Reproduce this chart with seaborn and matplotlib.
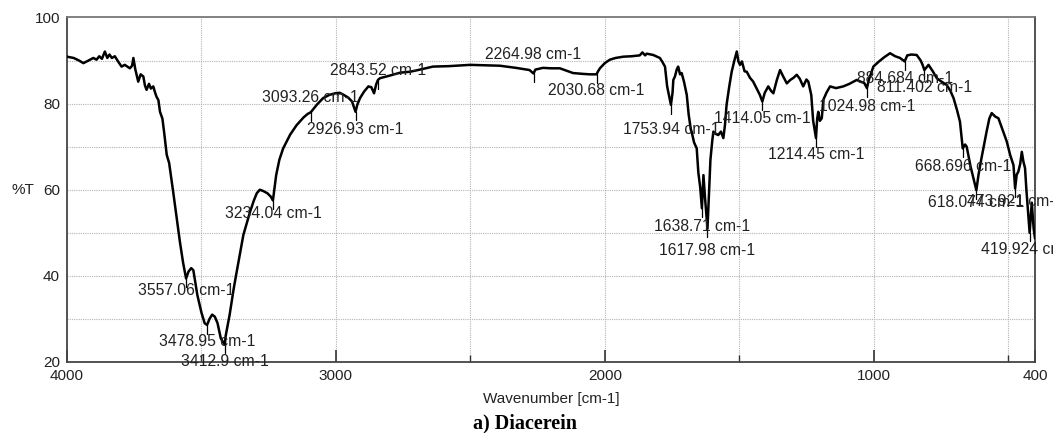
import matplotlib
matplotlib.use("Agg")
import matplotlib.pyplot as plt
import numpy as np
import pandas as pd
import seaborn as sns
from matplotlib.ticker import FixedLocator

# --- FTIR spectrum of diacerein: background trace (wavenumber cm-1, %T) ---
trace_wn = [
    4000, 3975, 3955, 3939, 3920, 3902, 3890, 3880, 3870, 3859, 3850, 3842, 3833,
    3822, 3810, 3797, 3785, 3766, 3758, 3753, 3746, 3735, 3726, 3716, 3710, 3704,
    3695, 3688, 3679, 3672, 3667, 3660, 3654, 3645, 3638, 3629, 3620, 3605, 3590,
    3580, 3568, 3548, 3538, 3530, 3515, 3500, 3488, 3470, 3460, 3450, 3440,
    3428, 3410, 3395, 3380, 3371, 3357, 3344, 3330, 3319, 3305, 3294, 3283,
    3270, 3255, 3242, 3228, 3222, 3210, 3196, 3170, 3146, 3120, 3105, 3070,
    3047, 3025, 3003, 2985, 2970, 2954, 2940, 2920, 2910, 2895, 2879, 2868,
    2858, 2850, 2836, 2800, 2760, 2724, 2680, 2639, 2580, 2501, 2450, 2390,
    2330, 2280, 2258, 2230, 2200, 2167, 2140, 2118, 2080, 2055, 2025, 2018,
    2000, 1981, 1960, 1931, 1900, 1870, 1860, 1850, 1844, 1820, 1795, 1785,
    1776, 1768, 1748, 1745, 1739, 1732, 1727, 1720, 1714, 1705, 1695, 1688,
    1680, 1677, 1668, 1658, 1652, 1645, 1633, 1627, 1613, 1607, 1600, 1596,
    1588, 1578, 1568, 1559, 1553, 1547, 1537, 1528, 1518, 1509, 1503, 1497,
    1490, 1480, 1472, 1460, 1448, 1435, 1423, 1405, 1392, 1382, 1373, 1360,
    1348, 1338, 1323, 1310, 1298, 1286, 1275, 1262, 1250, 1243, 1232, 1225,
    1210, 1206, 1200, 1193, 1187, 1175, 1162, 1140, 1113, 1090, 1063, 1045,
    1035, 1018, 1001, 980, 960, 939, 920, 902, 875, 860, 840, 825, 818,
    796, 780, 765, 750, 740, 728, 715, 703, 690, 679, 672, 660, 654, 640,
    610, 600, 592, 580, 570, 561, 548, 536, 520, 505, 492, 480, 468, 462,
    455, 449, 443, 437, 432, 412, 405, 400,
]
trace_t = [
    90.9, 90.6, 90.0, 89.4, 90.0, 90.6, 90.2, 91.0, 90.4, 92.1, 90.6, 91.4, 90.6,
    91.0, 89.8, 88.6, 89.0, 88.2, 88.8, 90.6, 88.0, 85.1, 86.8, 86.3, 84.2, 83.2,
    84.6, 83.5, 84.0, 82.5, 81.6, 80.8, 78.1, 76.5, 73.0, 68.1, 66.2, 59.5, 52.5,
    47.9, 43.0, 41.0, 41.8, 41.3, 35.5, 31.5, 29.0, 30.0, 31.0, 30.5, 29.0,
    25.5, 26.0, 31.0, 37.0, 40.2, 45.0, 49.5, 52.5, 54.9, 57.5, 59.2, 60.0,
    59.7, 59.2, 58.4, 60.5, 63.4, 67.0, 69.6, 72.8, 75.0, 76.8, 77.6, 79.8,
    81.3, 82.0, 82.4, 82.5, 82.0, 81.4, 80.5, 79.8, 81.3, 82.8, 84.0, 83.8,
    82.4, 84.5, 85.9, 86.5, 87.2, 87.4, 88.0, 88.6, 88.7, 89.0, 88.9, 88.8,
    88.3, 87.8, 87.9, 88.3, 88.2, 88.2, 87.6, 87.1, 86.9, 86.8, 87.5, 88.2,
    89.4, 90.2, 90.6, 90.9, 91.0, 91.2, 91.9, 91.2, 91.6, 91.3, 90.6, 89.6,
    88.6, 84.0, 82.5, 85.5, 86.3, 88.0, 88.6, 86.8, 87.1, 85.0, 82.0, 77.5,
    74.0, 73.5, 71.0, 69.6, 64.0, 60.5, 63.4, 58.0, 58.0, 67.0, 71.5, 73.5,
    73.0, 72.7, 73.5, 72.0, 75.0, 79.7, 84.0, 87.4, 90.0, 92.1, 89.8, 89.0,
    89.8, 87.5, 87.4, 86.0, 85.1, 83.5, 82.0, 82.5, 84.0, 83.0, 82.4, 85.5,
    87.8, 86.5, 84.7, 85.5, 86.0, 86.7, 85.8, 84.0, 85.6, 85.1, 82.0, 76.0,
    76.5, 78.1, 76.0, 76.6, 80.9, 82.6, 84.0, 83.6, 84.0, 84.6, 85.5, 85.0,
    84.8, 85.5, 88.6, 89.8, 90.8, 91.7, 91.0, 90.6, 91.2, 91.4, 91.3, 90.0, 89.0,
    89.0, 87.5, 85.9, 85.2, 84.8, 84.3, 83.0, 81.3, 78.5, 75.8, 71.5, 70.5, 70.0, 65.5,
    63.5, 67.0, 69.6, 73.5, 76.5, 77.8, 77.0, 76.6, 73.8, 71.2, 68.0, 65.7, 63.5, 64.2,
    66.0, 68.8, 66.5, 65.0, 60.0, 57.0, 51.0, 48.7,
]

# --- labelled bands: position, %T at the band, label placement (%T) ---
peak_wn = [3557.06, 3478.95, 3412.9, 3234.04, 3093.26, 2926.93, 2843.52,
           2264.98, 2030.68, 1753.94, 1638.71, 1617.98, 1414.05, 1214.45,
           1024.98, 884.684, 811.402, 668.696, 618.074, 473.921, 419.924]
peak_t = [39.4, 28.6, 24.0, 57.5, 78.0, 78.1, 85.5,
          87.0, 86.8, 79.7, 55.7, 51.0, 80.5, 72.0,
          83.6, 89.8, 87.8, 69.6, 59.9, 60.3, 50.0]
label_t = [36.7, 24.7, 20.0, 54.5, 81.4, 73.9, 87.8,
           91.3, 83.0, 74.1, 51.4, 46.0, 76.6, 68.1,
           79.3, 85.9, 83.8, 65.3, 57.0, 57.3, 46.2]

x_major = [4000, 3000, 2000, 1000, 400]
x_minor = [3500, 2500, 1500, 500]
x_grid = [3500, 3000, 2500, 2000, 1500, 1000, 500]
y_labels = [20, 40, 60, 80, 100]
y_grid = [30, 40, 50, 60, 70, 80, 90]

spectrum = pd.concat([
    pd.DataFrame({"wavenumber": trace_wn, "T": trace_t}),
    pd.DataFrame({"wavenumber": peak_wn, "T": peak_t}),
]).sort_values("wavenumber", ascending=False).reset_index(drop=True)

sns.set_theme(style="white")
plt.rcParams["font.family"] = ["Liberation Sans", "DejaVu Sans"]

fig = plt.figure(figsize=(10.53, 4.33), dpi=100)
ax = fig.add_axes([0.0636, 0.1640, 0.9193, 0.7956])

# dotted grid
for g in x_grid:
    ax.axvline(g, color="#b4b4b4", lw=0.8, ls=(0, (1, 1)), zorder=0)
for g in y_grid:
    ax.axhline(g, color="#b4b4b4", lw=0.8, ls=(0, (1, 1)), zorder=0)

sns.lineplot(data=spectrum, x="wavenumber", y="T", ax=ax, color="black",
             linewidth=1.8, estimator=None, sort=False, legend=False, zorder=3)

# band markers and labels
for w, t, lt in zip(peak_wn, peak_t, label_t):
    ax.plot([w, w], [t, t - 2.0], color="black", lw=0.9, zorder=3)
    ax.text(w, lt, f"{w:g} cm-1", ha="center", va="center", fontsize=11.3,
            color="#222222", clip_on=False, zorder=4)

ax.set_xlim(4000, 400)
ax.set_ylim(20, 100)
ax.xaxis.set_major_locator(FixedLocator(x_major))
ax.xaxis.set_minor_locator(FixedLocator(x_minor))
ax.set_yticks(y_labels)
ax.tick_params(axis="x", which="major", direction="in", length=9, width=1.2,
               color="#333333", labelsize=11, labelcolor="#222222", pad=5,
               bottom=True, top=False)
ax.tick_params(axis="x", which="minor", direction="in", length=5, width=1.0,
               color="#333333", bottom=True, top=False)
ax.tick_params(axis="y", length=0, labelsize=11, labelcolor="#222222", pad=5)

for side in ["left", "bottom", "right"]:
    ax.spines[side].set_color("#444444")
    ax.spines[side].set_linewidth(1.3)
ax.spines["top"].set_color("#777777")
ax.spines["top"].set_linewidth(1.3)

ax.set_xlabel("Wavenumber [cm-1]", fontsize=11, color="#222222")
ax.xaxis.label.set_va("center")
ax.xaxis.set_label_coords(0.5, -0.107)
ax.set_ylabel("%T", fontsize=11, color="#222222", rotation=0)
ax.yaxis.label.set_va("center")
ax.yaxis.set_label_coords(-0.046, 0.5)

fig.text(0.4986, 0.0231, "a) Diacerein", ha="center", va="center",
         fontsize=14.5, fontweight="bold", family=["Liberation Serif", "DejaVu Serif"],
         color="black")

fig.savefig("out.png", dpi=100, facecolor="white")
